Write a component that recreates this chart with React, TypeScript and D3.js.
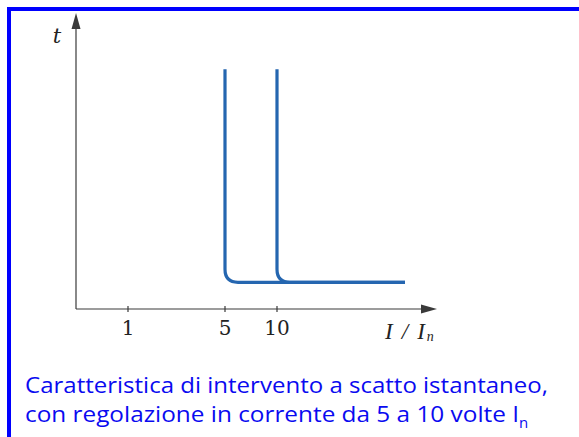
import React from "react";
import * as d3 from "d3";

// Pickup settings (multiples of rated current I/In)
const pickupSettings = [5, 10];
// Axis ticks on the current axis
const xTicks = [1, 5, 10];
// Trip-time levels (relative units): vertical extent and instantaneous trip time
const tTop = 81;
const tInstant = 9;
// Current where the flat instantaneous part ends
const curveEnd = 22;

const caption1 = "Caratteristica di intervento  a scatto istantaneo,";
const caption2 = "con regolazione in corrente da 5 a 10 volte I";

const W = 579;
const H = 437;

export default function App() {
  // Schematic (non-uniform) current axis
  const x = d3
    .scaleLinear()
    .domain([0, 1, 5, 10, 25])
    .range([76, 128, 225, 277, 437]);
  const y = d3.scaleLinear().domain([0, 100]).range([309, 13]);

  const axisColor = "#3a3a3a";
  const curveColor = "#2566b0";
  const r = 13;

  const curvePath = (s: number) => {
    const p = d3.path();
    const xs = x(s);
    const yb = y(tInstant);
    p.moveTo(xs, y(tTop));
    p.lineTo(xs, yb - r);
    p.quadraticCurveTo(xs, yb, xs + r, yb);
    p.lineTo(x(curveEnd), yb);
    return p.toString();
  };

  const x0 = x(0);
  const y0 = y(0);
  const xEnd = x(25);
  const yTop = y(100);

  return (
    <svg
      width={W}
      height={H}
      style={{ position: "absolute", left: 0, top: 0, display: "block", background: "#fff" }}
    >
      {/* frame */}
      <rect x={7} y={7} width={W - 7} height={4} fill="#0000ff" />
      <rect x={7} y={7} width={4} height={H - 7} fill="#0000ff" />

      {/* axes */}
      <line x1={x0} y1={y0} x2={xEnd - 12} y2={y0} stroke={axisColor} strokeWidth={1.2} />
      <path d={`M${xEnd},${y0} L${xEnd - 16},${y0 - 4.5} L${xEnd - 16},${y0 + 4.5} Z`} fill={axisColor} />
      <line x1={x0} y1={y0} x2={x0} y2={yTop + 12} stroke={axisColor} strokeWidth={1.2} />
      <path d={`M${x0},${yTop} L${x0 - 4.5},${yTop + 16} L${x0 + 4.5},${yTop + 16} Z`} fill={axisColor} />

      {xTicks.map((v) => (
        <g key={v}>
          <line x1={x(v)} x2={x(v)} y1={y0 - 3} y2={y0 + 3} stroke={axisColor} strokeWidth={1.2} />
          <text
            x={x(v)}
            y={y0 + 26}
            textAnchor="middle"
            fontFamily="'DejaVu Serif', serif"
            fontSize={20}
            fill="#222"
          >
            {v}
          </text>
        </g>
      ))}

      <text x={57} y={43} textAnchor="middle" fontFamily="'DejaVu Serif', serif" fontStyle="italic" fontSize={21} fill="#222">
        t
      </text>
      <text x={385} y={339} fontFamily="'Liberation Serif', serif" fontStyle="italic" fontSize={23} fill="#222" style={{ whiteSpace: "pre" }}>
        <tspan textLength={40} lengthAdjust="spacing">I / I</tspan>
        <tspan fontSize={14} dy={2}>n</tspan>
      </text>

      {/* trip characteristics */}
      {pickupSettings.map((s) => (
        <path key={s} d={curvePath(s)} fill="none" stroke={curveColor} strokeWidth={3.2} />
      ))}

      {/* caption */}
      <g fontFamily="'Open Sans', sans-serif" fontSize={22} fill="#0a0af0" style={{ whiteSpace: "pre" }}>
        <text x={25} y={393} textLength={523} lengthAdjust="spacingAndGlyphs">
          {caption1}
        </text>
        <text x={25} y={422}>
          <tspan textLength={494} lengthAdjust="spacingAndGlyphs">{caption2}</tspan>
          <tspan fontSize={15} dy={6}>n</tspan>
        </text>
      </g>
    </svg>
  );
}
